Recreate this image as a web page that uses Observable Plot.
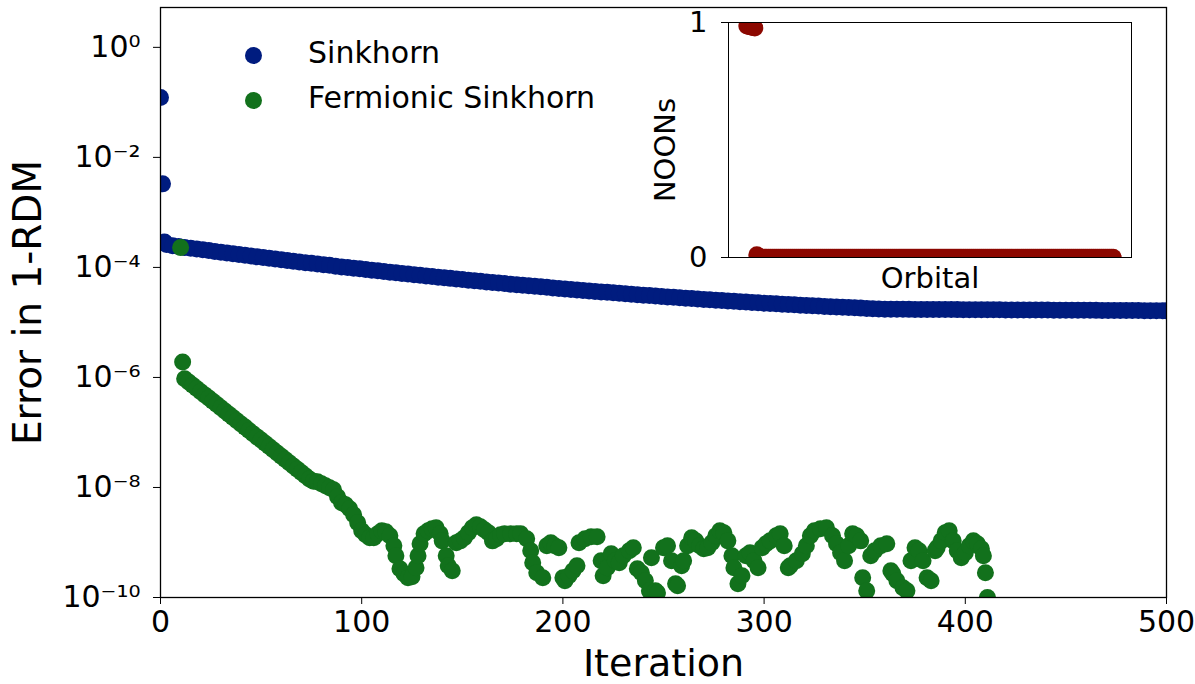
<!DOCTYPE html>
<html><head><meta charset="utf-8">
<script src="https://cdn.jsdelivr.net/npm/d3@7"></script>
<script src="https://cdn.jsdelivr.net/npm/@observablehq/plot@0.6"></script>
<style>
body{margin:0;background:#fff;font-family:"DejaVu Sans",sans-serif;}
#wrap{position:relative;width:1195px;height:684px;overflow:hidden;}
#wrap svg{position:absolute;}
.lg-dot{position:absolute;width:17px;height:17px;border-radius:50%;}
.lg-txt{position:absolute;font-size:30px;line-height:30px;color:#000;white-space:nowrap;}
</style></head><body><div id="wrap"></div>
<script>
// ---- Main panel data ----
const xTicks = [0, 100, 200, 300, 400, 500];
const yTicks = [1, 1e-2, 1e-4, 1e-6, 1e-8, 1e-10];
const seriesNames = ["Sinkhorn", "Fermionic Sinkhorn"];
const seriesColors = ["#001c7f", "#12711c"];

const sinkhornIter = [0,1,2,3,6,9,12,15,18,21,24,27,30,33,36,39,42,45,48,51,54,57,60,63,66,69,72,75,78,81,84,87,90,93,96,99,
102,105,108,111,114,117,120,123,126,129,132,135,138,141,144,147,150,153,156,159,162,165,168,171,174,177,180,183,186,189,192,195,198,
201,204,207,210,213,216,219,222,225,228,231,234,237,240,243,246,249,252,255,258,261,264,267,270,273,276,279,282,285,288,291,294,297,
300,303,306,309,312,315,318,321,324,327,330,333,336,339,342,345,348,351,354,357,360,363,366,369,372,375,378,381,384,387,390,393,396,399,
402,405,408,411,414,417,420,423,426,429,432,435,438,441,444,447,450,453,456,459,462,465,468,471,474,477,480,483,486,489,492,495,498,500];
const sinkhornErr = [0.123,3.3e-3,2.9e-4,2.6e-4,2.47e-4,2.39e-4,2.31e-4,2.23e-4,2.16e-4,2.09e-4,2.02e-4,1.95e-4,1.89e-4,1.83e-4,1.77e-4,1.72e-4,1.66e-4,1.61e-4,1.56e-4,1.51e-4,1.47e-4,1.42e-4,1.38e-4,1.34e-4,1.30e-4,1.26e-4,1.22e-4,1.19e-4,1.15e-4,1.12e-4,1.09e-4,1.05e-4,1.02e-4,9.96e-5,9.68e-5,9.41e-5,
9.15e-5,8.90e-5,8.66e-5,8.43e-5,8.20e-5,7.98e-5,7.77e-5,7.56e-5,7.37e-5,7.18e-5,6.99e-5,6.82e-5,6.64e-5,6.48e-5,6.32e-5,6.16e-5,6.01e-5,5.86e-5,5.72e-5,5.58e-5,5.45e-5,5.32e-5,5.20e-5,5.08e-5,4.96e-5,4.85e-5,4.74e-5,4.63e-5,4.53e-5,4.43e-5,4.34e-5,4.24e-5,4.15e-5,
4.06e-5,3.98e-5,3.90e-5,3.82e-5,3.74e-5,3.66e-5,3.59e-5,3.52e-5,3.45e-5,3.38e-5,3.32e-5,3.25e-5,3.19e-5,3.13e-5,3.08e-5,3.02e-5,2.96e-5,2.91e-5,2.86e-5,2.81e-5,2.76e-5,2.72e-5,2.67e-5,2.62e-5,2.58e-5,2.54e-5,2.50e-5,2.46e-5,2.42e-5,2.38e-5,2.35e-5,2.31e-5,2.28e-5,
2.24e-5,2.21e-5,2.18e-5,2.15e-5,2.12e-5,2.09e-5,2.06e-5,2.03e-5,2.01e-5,1.98e-5,1.95e-5,1.93e-5,1.91e-5,1.88e-5,1.86e-5,1.84e-5,1.82e-5,1.80e-5,1.78e-5,1.76e-5,1.74e-5,1.734e-5,1.731e-5,1.729e-5,1.727e-5,1.725e-5,1.722e-5,1.720e-5,1.718e-5,1.715e-5,1.713e-5,1.711e-5,1.709e-5,1.706e-5,
1.704e-5,1.702e-5,1.699e-5,1.697e-5,1.695e-5,1.692e-5,1.690e-5,1.688e-5,1.686e-5,1.683e-5,1.681e-5,1.679e-5,1.676e-5,1.674e-5,1.672e-5,1.670e-5,1.667e-5,1.665e-5,1.663e-5,1.660e-5,1.658e-5,1.656e-5,1.653e-5,1.651e-5,1.649e-5,1.647e-5,1.644e-5,1.642e-5,1.640e-5,1.637e-5,1.635e-5,1.633e-5,1.630e-5,1.629e-5];

const fermiIter = [10,11,12,14,16,18,20,22,24,26,28,30,32,34,36,38,40,42,44,46,48,50,52,54,56,58,60,62,64,66,68,70,72,74,76,78,80,82,84,86,88,90,92,94,96,98,100,
102,104,106,108,110,112,114,116,117,119,121,123,125,127,128,129,131,133,135,137,139,140,142,143,145,147,149,151,153,155,157,159,161,163,165,167,169,171,174,177,179,
182,184,185,187,190,192,194,196,198,200,201,203,205,207,208,211,214,217,219,220,222,224,226,228,230,233,235,237,239,241,243,244,246,247,250,252,254,256,257,259,260,
262,264,266,268,270,272,274,276,278,280,282,284,285,287,289,291,293,295,297,299,301,303,306,308,310,312,313,316,319,321,323,325,328,331,334,336,338,340,342,344,346,348,
349,351,353,355,358,361,363,364,366,369,371,373,375,377,379,381,383,385,386,388,390,392,394,396,398,400,402,404,406,408,409,410,411];
const fermiErr = [2.3e-4,1.9e-6,9.47e-7,8.27e-7,7.23e-7,6.31e-7,5.51e-7,4.82e-7,4.21e-7,3.68e-7,3.21e-7,2.81e-7,2.45e-7,2.14e-7,1.87e-7,1.63e-7,1.43e-7,1.25e-7,1.09e-7,9.51e-8,8.31e-8,7.26e-8,6.34e-8,5.54e-8,4.84e-8,4.23e-8,3.69e-8,3.22e-8,2.82e-8,2.46e-8,2.15e-8,1.88e-8,1.64e-8,1.42e-8,1.30e-8,1.27e-8,1.17e-8,1.07e-8,9.87e-9,9.08e-9,6.78e-9,5.27e-9,4.85e-9,4.10e-9,3.19e-9,2.28e-9,1.63e-9,
1.38e-9,1.22e-9,1.22e-9,1.44e-9,1.63e-9,1.57e-9,1.32e-9,8.71e-10,5.73e-10,3.32e-10,2.70e-10,2.28e-10,2.38e-10,3.47e-10,5.73e-10,9.47e-10,1.44e-9,1.63e-9,1.78e-9,1.85e-9,1.44e-9,1.07e-9,5.73e-10,3.77e-10,3.06e-10,9.87e-10,1.07e-9,1.22e-9,1.50e-9,1.85e-9,2.10e-9,1.93e-9,1.70e-9,1.50e-9,1.07e-9,1.17e-9,1.38e-9,1.44e-9,1.44e-9,1.44e-9,1.44e-9,
1.17e-9,7.06e-10,4.28e-10,2.81e-10,2.28e-10,8.71e-10,9.87e-10,8.71e-10,8.01e-10,2.28e-10,2.01e-10,2.48e-10,3.06e-10,3.77e-10,9.87e-10,1.17e-9,1.27e-9,1.27e-9,4.65e-10,2.48e-10,3.47e-10,6.23e-10,4.65e-10,4.28e-10,5.73e-10,7.06e-10,8.01e-10,3.32e-10,2.81e-10,2.01e-10,1.32e-10,5.27e-10,1.32e-10,1.22e-10,8.01e-10,8.71e-10,4.65e-10,1.77e-10,1.63e-10,3.77e-10,4.65e-10,
8.71e-10,1.22e-9,1.07e-9,8.71e-10,7.68e-10,8.01e-10,9.87e-10,1.32e-9,1.63e-9,1.50e-9,1.07e-9,5.73e-10,3.47e-10,1.77e-10,2.48e-10,5.73e-10,6.50e-10,4.65e-10,3.47e-10,8.01e-10,9.47e-10,1.07e-9,1.32e-9,1.44e-9,8.71e-10,3.47e-10,3.77e-10,4.65e-10,6.23e-10,8.71e-10,1.32e-9,1.63e-9,1.78e-9,1.85e-9,1.32e-9,9.47e-10,6.50e-10,4.65e-10,8.71e-10,1.44e-9,1.32e-9,1.07e-9,
2.28e-10,1.32e-10,5.73e-10,7.06e-10,8.71e-10,9.47e-10,3.06e-10,2.70e-10,2.01e-10,1.50e-10,1.32e-10,4.65e-10,8.01e-10,7.06e-10,4.65e-10,2.28e-10,2.01e-10,7.06e-10,8.01e-10,1.07e-9,1.50e-9,1.63e-9,1.07e-9,7.06e-10,5.27e-10,6.50e-10,8.71e-10,1.07e-9,9.47e-10,7.68e-10,5.73e-10,2.81e-10,1.0e-10];

// ---- Inset data (natural orbital occupation numbers) ----
const insetYTicks = [0, 1];
const noons = [0.985,0.983,0.981,0.979,0.977,0.012,0.006,
0.001,0.001,0.001,0.001,0.001,0.001,0.001,0.001,0.001,0.001,
0.001,0.001,0.001,0.001,0.001,0.001,0.001,0.001,0.001,0.001,
0.001,0.001,0.001,0.001,0.001,0.001,0.001,0.001,0.001,0.001,
0.001,0.001,0.001,0.001,0.001,0.001,0.001,0.001,0.001,0.001,
0.001,0.001,0.001,0.001,0.001,0.001,0.001,0.001,0.001,0.001,
0.001,0.001,0.001,0.001,0.001,0.001,0.001,0.001,0.001,0.001,
0.001,0.001,0.001,0.001,0.001,0.001,0.001,0.001,0.001,0.001,
0.001,0.001,0.001,0.001,0.001,0.001,0.001,0.001,0.001,0.001,
0.001,0.001,0.001,0.001,0.001,0.001,0.001,0.001,0.001,0.001,
0.001,0.001,0.001,0.001,0.001,0.001,0.001,0.001,0.001,0.001,
0.001,0.001,0.001,0.001,0.001,0.001,0.001,0.001,0.001,0.001,
0.001,0.001,0.001,0.001,0.001,0.001,0.001,0.001,0.001,0.001,
0.001,0.001,0.001,0.001,0.001,0.001,0.001,0.001,0.001,0.001,
0.001,0.001,0.001,0.001,0.001,0.001,0.001,0.001,0.001,0.001,
0.001,0.001,0.001,0.001,0.001,0.001,0.001,0.001,0.001,0.001,
0.001,0.001,0.001,0.001,0.001,0.001,0.001,0.001,0.001,0.001,
0.001,0.001,0.001,0.001,0.001,0.001,0.001,0.001,0.001,0.001,
0.001,0.001,0.001,0.001,0.001,0.001,0.001];
const noonColor = "#8c0800";

// ---- build tables ----
const sinkhorn = sinkhornIter.map((it, i) => ({iter: it, err: sinkhornErr[i]}));
const fermi = fermiIter.map((it, i) => ({iter: it, err: fermiErr[i]}));
const noonData = noons.map((v, i) => ({orbital: i, noon: v}));

const supMap = {"-":"\u207B","0":"\u2070","1":"\u00B9","2":"\u00B2","3":"\u00B3","4":"\u2074","5":"\u2075","6":"\u2076","7":"\u2077","8":"\u2078","9":"\u2079"};
const fmtPow = d => "10" + String(Math.round(Math.log10(d))).split("").map(c => supMap[c]).join("");

const FONT = "DejaVu Sans";
const FS = 30;
const main = Plot.plot({
  width: 1195, height: 684,
  marginLeft: 160, marginRight: 29, marginTop: 7, marginBottom: 87,
  style: {fontFamily: FONT, fontSize: FS + "px", color: "#000", background: "transparent", overflow: "visible"},
  x: {domain: [0, 500]},
  y: {type: "log", domain: [1e-10, 5.3]},
  marks: [
    Plot.dot(sinkhorn, {x: "iter", y: "err", r: 8.5, fill: seriesColors[0], clip: true}),
    Plot.dot(fermi, {x: "iter", y: "err", r: 8.5, fill: seriesColors[1], clip: true}),
    Plot.frame({stroke: "#000", strokeWidth: 1.3}),
    Plot.axisX({ticks: xTicks, tickSize: 7, tickPadding: 6, label: null, tickFormat: d => String(d), fontSize: FS}),
    Plot.axisY({ticks: yTicks, tickSize: 7, tickPadding: 13, label: null, tickFormat: fmtPow, fontSize: FS}),
    Plot.text(["Iteration"], {frameAnchor: "bottom", lineAnchor: "middle", textAnchor: "middle", dy: 66, fontSize: 38}),
    Plot.text(["Error in 1-RDM"], {frameAnchor: "left", lineAnchor: "middle", textAnchor: "middle", dx: -132, rotate: -90, fontSize: 39})
  ]
});
main.style.left = "0px"; main.style.top = "0px";

const inset = Plot.plot({
  width: 520, height: 290,
  marginLeft: 88, marginRight: 29, marginTop: 12, marginBottom: 43,
  style: {fontFamily: FONT, fontSize: FS + "px", color: "#000", background: "transparent", overflow: "visible"},
  x: {domain: [-9.15, 192.15], axis: null},
  y: {domain: [0, 1]},
  marks: [
    Plot.frame({fill: "white"}),
    Plot.dot(noonData, {x: "orbital", y: "noon", r: 8.5, fill: noonColor, clip: true}),
    Plot.frame({stroke: "#000", strokeWidth: 1}),
    Plot.axisY({ticks: insetYTicks, tickSize: 7, tickPadding: 14, label: null, tickFormat: d => String(d), fontSize: 29}),
    Plot.text(["Orbital"], {frameAnchor: "bottom", lineAnchor: "middle", textAnchor: "middle", dy: 21, fontSize: 29}),
    Plot.text(["NOONs"], {frameAnchor: "left", lineAnchor: "middle", textAnchor: "middle", dx: -63, dy: 10, rotate: -90, fontSize: 29})
  ]
});
inset.style.left = "640px"; inset.style.top = "10px";

const wrap = document.getElementById("wrap");
wrap.appendChild(main);
wrap.appendChild(inset);

// legend (HTML overlay)
const lgY = [55, 100];
seriesNames.forEach((name, i) => {
  const d = document.createElement("div");
  d.className = "lg-dot";
  d.style.left = (253 - 8.5) + "px";
  d.style.top = (lgY[i] - 8.5) + "px";
  d.style.background = seriesColors[i];
  wrap.appendChild(d);
  const t = document.createElement("div");
  t.className = "lg-txt";
  t.style.left = "308px";
  t.style.top = (lgY[i] - 17) + "px";
  t.textContent = name;
  wrap.appendChild(t);
});
</script></body></html>
